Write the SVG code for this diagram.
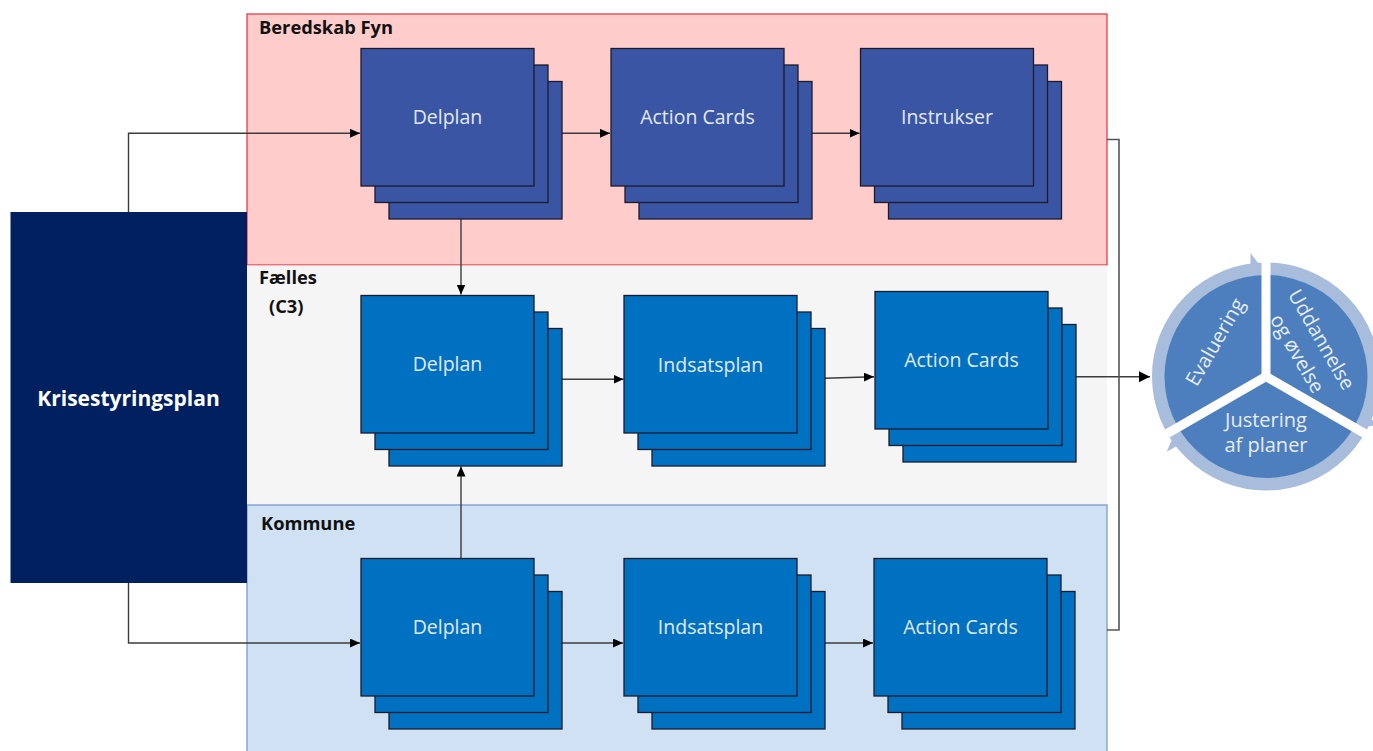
<svg xmlns="http://www.w3.org/2000/svg" width="1373" height="751" viewBox="0 0 1373 751">
<style>
.lbl{font-family:"Open Sans","Liberation Sans",sans-serif;font-weight:bold;font-size:18.3px;fill:#111}
.bt{font-family:"Open Sans","Liberation Sans",sans-serif;font-size:19.5px;fill:#e2eaf6;text-anchor:middle}
.r1{fill:#3a55a4;stroke:#1b1b2b;stroke-width:1.3}
.r2{fill:#0070c0;stroke:#1b1b2b;stroke-width:1.3}
.con{fill:none;stroke:#3c3c3c;stroke-width:1.4}
.ct{font-family:"Open Sans","Liberation Sans",sans-serif;font-size:20px;fill:#e6edf8;text-anchor:middle}
</style>
<defs>
<marker id="ah" markerUnits="userSpaceOnUse" markerWidth="11" markerHeight="9" refX="10" refY="4.5" orient="auto">
<path d="M0,0 L10,4.5 L0,9 z" fill="#000"/>
</marker>
<marker id="ahb" markerUnits="userSpaceOnUse" markerWidth="12" markerHeight="11" refX="11" refY="5.5" orient="auto">
<path d="M0,0 L11,5.5 L0,11 z" fill="#000"/>
</marker>
<polygon id="cah" points="-4.5,-109 -15.5,-100 -15.5,-123.5" fill="#a8bcdc"/>
</defs>
<rect width="1373" height="751" fill="#fff"/>

<g id="lane-beredskab">
<rect x="247" y="14" width="860" height="251" fill="#ffcccc" stroke="#e0404e" stroke-width="1.3"/>
<text class="lbl" x="259" y="34">Beredskab Fyn</text>
</g>
<g id="lane-faelles">
<rect x="247" y="265.5" width="860" height="239.5" fill="#f5f5f5"/>
<text class="lbl" x="259" y="284">Fælles</text>
<text class="lbl" x="269" y="313">(C3)</text>
</g>
<g id="lane-kommune">
<rect x="247" y="505" width="860" height="260" fill="#cfe1f2" stroke="#8aa4d6" stroke-width="1.5"/>
<text class="lbl" x="261" y="530">Kommune</text>
</g>

<g id="krisestyringsplan">
<rect x="10.5" y="212" width="236.5" height="371" fill="#002060"/>
<text x="128.5" y="406" text-anchor="middle" font-family="Open Sans, Liberation Sans, sans-serif" font-weight="bold" font-size="21" fill="#fff">Krisestyringsplan</text>
</g>

<g id="connectors">
<path class="con" d="M128.5,212 V133.3 H360" marker-end="url(#ah)"/>
<path class="con" d="M128.5,583 V643 H360" marker-end="url(#ah)"/>
<path class="con" d="M562,133.3 H610" marker-end="url(#ah)"/>
<path class="con" d="M811.5,133.3 H859.5" marker-end="url(#ah)"/>
<path class="con" d="M461,219 V294.5" marker-end="url(#ah)"/>
<path class="con" d="M461,558 V466.5" marker-end="url(#ah)"/>
<path class="con" d="M562,379.3 H623.5" marker-end="url(#ah)"/>
<path class="con" d="M825,378.3 L874,376.8" marker-end="url(#ah)"/>
<path class="con" d="M562,643 H623" marker-end="url(#ah)"/>
<path class="con" d="M825,643 H873" marker-end="url(#ah)"/>
<path class="con" d="M1076,376.7 H1150" marker-end="url(#ahb)"/>
<path d="M1107,139.5 H1119 V630 H1107" fill="none" stroke="#555" stroke-width="1.6"/>
</g>

<g id="r1-delplan">
<rect class="r1" x="389" y="81.5" width="173" height="137.5"/>
<rect class="r1" x="375" y="65" width="173" height="137.5"/>
<rect class="r1" x="361" y="48.5" width="173" height="137.5"/>
<text class="bt" x="447.5" y="124.3">Delplan</text>
</g>
<g id="r1-actioncards">
<rect class="r1" x="639" y="81.5" width="173" height="137.5"/>
<rect class="r1" x="625" y="65" width="173" height="137.5"/>
<rect class="r1" x="611" y="48.5" width="173" height="137.5"/>
<text class="bt" x="697.5" y="124.3">Action Cards</text>
</g>
<g id="r1-instrukser">
<rect class="r1" x="888.5" y="81.5" width="173" height="137.5"/>
<rect class="r1" x="874.5" y="65" width="173" height="137.5"/>
<rect class="r1" x="860.5" y="48.5" width="173" height="137.5"/>
<text class="bt" x="947" y="124.3">Instrukser</text>
</g>

<g id="r2-delplan">
<rect class="r2" x="389" y="328.5" width="173" height="137.5"/>
<rect class="r2" x="375" y="312" width="173" height="137.5"/>
<rect class="r2" x="361" y="295.5" width="173" height="137.5"/>
<text class="bt" x="447.5" y="371">Delplan</text>
</g>
<g id="r2-indsatsplan">
<rect class="r2" x="652" y="328.5" width="173" height="137.5"/>
<rect class="r2" x="638" y="312" width="173" height="137.5"/>
<rect class="r2" x="624" y="295.5" width="173" height="137.5"/>
<text class="bt" x="710.5" y="372">Indsatsplan</text>
</g>
<g id="r2-actioncards">
<rect class="r2" x="903" y="324.5" width="173" height="137.5"/>
<rect class="r2" x="889" y="308" width="173" height="137.5"/>
<rect class="r2" x="875" y="291.5" width="173" height="137.5"/>
<text class="bt" x="961.5" y="367">Action Cards</text>
</g>

<g id="r3-delplan">
<rect class="r2" x="389" y="591.5" width="173" height="137.5"/>
<rect class="r2" x="375" y="575" width="173" height="137.5"/>
<rect class="r2" x="361" y="558.5" width="173" height="137.5"/>
<text class="bt" x="447.5" y="634">Delplan</text>
</g>
<g id="r3-indsatsplan">
<rect class="r2" x="652" y="591.5" width="173" height="137.5"/>
<rect class="r2" x="638" y="575" width="173" height="137.5"/>
<rect class="r2" x="624" y="558.5" width="173" height="137.5"/>
<text class="bt" x="710.5" y="634">Indsatsplan</text>
</g>
<g id="r3-actioncards">
<rect class="r2" x="902" y="591.5" width="173" height="137.5"/>
<rect class="r2" x="888" y="575" width="173" height="137.5"/>
<rect class="r2" x="874" y="558.5" width="173" height="137.5"/>
<text class="bt" x="960.5" y="634">Action Cards</text>
</g>

<g id="cycle">
<g transform="translate(1266,376.5)">
<circle r="107.5" fill="none" stroke="#a8bcdc" stroke-width="13"/>
<circle r="101.5" fill="#4d7ebd"/>
<g stroke="#fff" stroke-width="9">
<line x1="0" y1="0" x2="0" y2="-126"/>
<line x1="0" y1="0" x2="0" y2="-126" transform="rotate(120)"/>
<line x1="0" y1="0" x2="0" y2="-126" transform="rotate(240)"/>
</g>
<use href="#cah"/>
<use href="#cah" transform="rotate(120)"/>
<use href="#cah" transform="rotate(240)"/>
</g>
<text class="ct" transform="translate(1215,342) rotate(-60)" x="0" y="7">Evaluering</text>
<g transform="translate(1309.5,346.5) rotate(60)">
<text class="ct" x="0" y="-7">Uddannelse</text>
<text class="ct" x="0" y="21">og øvelse</text>
</g>
<text class="ct" x="1266" y="427">Justering</text>
<text class="ct" x="1266" y="452">af planer</text>
</g>
</svg>
